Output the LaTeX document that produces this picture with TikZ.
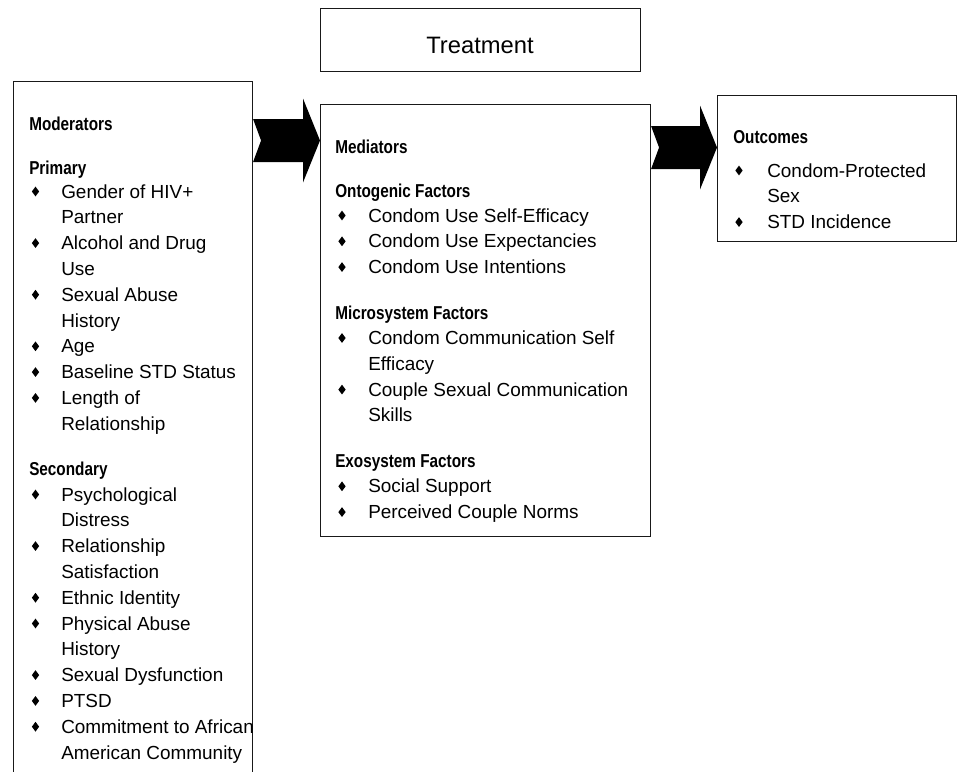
\documentclass[tikz,border=0pt]{standalone}
\usepackage{fontspec}
\setmainfont{Liberation Sans}
\newfontfamily\narrowfont[FakeStretch=0.82]{Liberation Sans}
\usetikzlibrary{calc,shapes.geometric}

\newcommand{\pxl}{0.75pt}
\tikzset{
  box/.style={draw=black!90, line width=0.8pt, rectangle, inner sep=0pt, anchor=north west},
  head/.style={anchor=base west, inner sep=0pt, font=\narrowfont\fontsize{14}{17}\selectfont\bfseries},
  entry/.style={anchor=base west, inner sep=0pt, font=\fontsize{14.2}{17}\selectfont},
  bul/.style={diamond, fill=black, inner sep=0pt, minimum width=7.5*\pxl, minimum height=10*\pxl},
}
% filled block arrow with notched tail, from tail #1 to tip #2
\newcommand{\blockarrow}[2]{%
  \fill[black] ($(#1)+(0,-21.5)$) -- ($(#2)+(-17,-21.5)$) -- ($(#2)+(-17,-42)$) -- (#2)
    -- ($(#2)+(-17,42)$) -- ($(#2)+(-17,21.5)$) -- ($(#1)+(0,21.5)$) -- ($(#1)+(8,0)$) -- cycle;}

\begin{document}
\begin{tikzpicture}[x=\pxl, y=-\pxl]
  \useasboundingbox (0,0) rectangle (960,771);

  % treatment
  \node[box, minimum width=320*\pxl, minimum height=63*\pxl] (trt) at (320,8) {};
  \node[anchor=base, inner sep=0pt, font=\fontsize{17.8}{21}\selectfont] (trtlbl) at (480,53) {Treatment};

  % boxes
  \node[box, minimum width=239*\pxl, minimum height=720*\pxl] (mod) at (13,81) {};
  \node[box, minimum width=330*\pxl, minimum height=432*\pxl] (med) at (320,104) {};
  \node[box, minimum width=239*\pxl, minimum height=146*\pxl] (out) at (717,95) {};

  % block arrows
  \coordinate (a1tail) at (mod.east |- 0,140.5);
  \coordinate (a1tip) at (med.west |- 0,140.5);
  \coordinate (a2tail) at (med.east |- 0,147.5);
  \coordinate (a2tip) at (out.west |- 0,147.5);
  \blockarrow{a1tail}{a1tip}
  \blockarrow{a2tail}{a2tip}

  % moderators
  \node[head] (modttl) at (29,130) {Moderators};
  \node[head] (modpri) at (29,174) {Primary};
  \node[head] (modsec) at (29,475) {Secondary};
  \foreach \y/\t [count=\i] in {198/Gender of HIV+, 223.8/Partner, 249.6/Alcohol and Drug, 275.4/Use,
      301.2/Sexual Abuse, 327/History, 352.8/Age, 378.6/Baseline STD Status, 404.4/Length of,
      430.2/Relationship, 501/Psychological, 526.8/Distress, 552.6/Relationship, 578.4/Satisfaction,
      604.2/Ethnic Identity, 630/Physical Abuse, 655.8/History, 681.6/Sexual Dysfunction,
      707.4/PTSD, 733.2/Commitment to African, 759/American Community}
    \node[entry] (modl\i) at (61,\y) {\t};
  \foreach \y [count=\i] in {198, 249.6, 301.2, 352.8, 378.6, 404.4, 501, 552.6, 604.2, 630, 681.6, 707.4, 733.2}
    \node[bul] (modb\i) at (35.5,\y-6.5) {};

  % mediators
  \node[head] (medttl) at (335,153.5) {Mediators};
  \node[head] (medont) at (335,197.5) {Ontogenic Factors};
  \node[head] (medmic) at (335,319) {Microsystem Factors};
  \node[head] (medexo) at (335,467) {Exosystem Factors};
  \foreach \y/\t [count=\i] in {222/Condom Use Self-Efficacy, 247.8/Condom Use Expectancies,
      273.6/Condom Use Intentions, 344.5/Condom Communication Self, 370.3/Efficacy,
      396.1/Couple Sexual Communication, 421.9/Skills, 492.8/Social Support,
      518.6/Perceived Couple Norms}
    \node[entry] (medl\i) at (368,\y) {\t};
  \foreach \y [count=\i] in {222, 247.8, 273.6, 344.5, 396.1, 492.8, 518.6}
    \node[bul] (medb\i) at (342,\y-6.5) {};

  % outcomes
  \node[head] (outttl) at (733,143) {Outcomes};
  \foreach \y/\t [count=\i] in {177/Condom-Protected, 202.8/Sex, 228.6/STD Incidence}
    \node[entry] (outl\i) at (767,\y) {\t};
  \foreach \y [count=\i] in {177, 228.6}
    \node[bul] (outb\i) at (739,\y-6.5) {};
\end{tikzpicture}
\end{document}
